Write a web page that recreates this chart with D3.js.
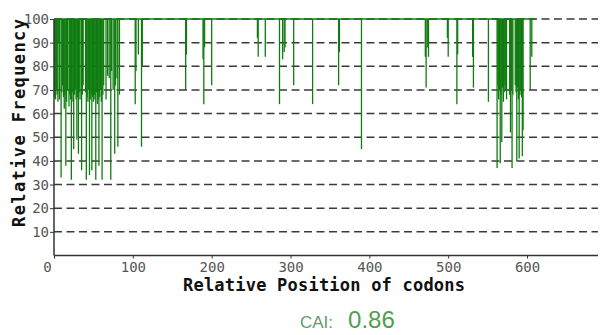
<!DOCTYPE html>
<html>
<head>
<meta charset="utf-8">
<script src="https://cdn.jsdelivr.net/npm/d3@7"></script>
<style>
    html, body { margin: 0; padding: 0; background: #fff; }
    .tick text { font-family: "DejaVu Sans Mono", monospace; font-size: 14px; fill: #555; }
    .axis-title { font-family: "DejaVu Sans Mono", monospace; font-size: 17px; font-weight: bold; fill: #111; }
</style>
</head>
<body>
<svg id="chart" width="600" height="335"></svg>
<script>
// codons whose relative frequency is below 100 (all others sit on the top line)
var codonPos = [
    1, 2, 3, 4, 5, 6, 7, 9, 10, 11, 12, 13, 14, 15, 16, 17, 19, 20, 21, 22,
    23, 24, 25, 26, 27, 28, 29, 30, 31, 32, 33, 35, 36, 37, 40, 41, 42, 43, 44, 45,
    46, 47, 48, 49, 50, 51, 52, 53, 54, 55, 56, 57, 58, 59, 60, 61, 62, 63, 66, 68,
    70, 72, 73, 75, 77, 78, 80, 81, 83,
    103, 104, 107, 111, 112,
    167, 168, 189, 190, 191, 200,
    258, 259, 268, 286, 290, 292, 293, 304, 328, 361, 362, 390,
    471, 472, 474, 475, 499, 500, 511, 512, 531, 532, 551,
    562, 563, 564, 565, 566, 567, 568, 569, 570, 571, 572, 573, 574,
    578, 579, 580, 581, 582, 585, 586,
    587, 588, 589, 590, 591, 592, 593, 594, 595, 604, 606
];
var freqValues = [
    67, 66, 70, 68, 65, 90, 66, 33, 69, 72, 67, 62, 68, 38, 65, 70, 63, 68, 66, 32,
    69, 65, 45, 68, 70, 66, 49, 67, 43, 69, 66, 36, 68, 72, 69, 32, 67, 65, 70, 34,
    66, 68, 36, 67, 65, 68, 66, 32, 69, 64, 66, 38, 67, 70, 65, 32, 68, 72, 66, 76,
    75, 32, 78, 70, 43, 72, 75, 46, 68,
    64, 78, 85, 46, 80,
    70, 85, 83, 64, 88, 72,
    92, 84, 84, 64, 83, 86, 88, 72, 64, 72, 86, 45,
    84, 71, 88, 84, 92, 84, 64, 85, 84, 71, 65,
    37, 72, 66, 70, 39, 68, 48, 71, 65, 69, 72, 70, 66,
    68, 52, 70, 37, 68, 72, 69,
    40, 71, 66, 41, 68, 70, 67, 42, 53, 70, 84
];
var geneLength = 611;
var yTicks = [10, 20, 30, 40, 50, 60, 70, 80, 90, 100];
var xTicks = [0, 100, 200, 300, 400, 500, 600];
var cai = 0.86;

((d3) => {
    var svg = d3.select('#chart');
    var green = '#107c10';

    var x = d3.scaleLinear().domain([0, 690]).range([54, 598]);
    var y = d3.scaleLinear().domain([0, 100]).range([255.5, 19]);

    // dashed grid lines
    svg.append('g')
        .selectAll('line')
        .data(yTicks)
        .enter()
        .append('line')
        .attr('x1', x(0))
        .attr('x2', x(690))
        .attr('y1', function (d) { return y(d); })
        .attr('y2', function (d) { return y(d); })
        .attr('stroke', '#3a3a3a')
        .attr('stroke-width', 1.5)
        .attr('stroke-dasharray', '8,4.5');

    // top line: codons at 100
    svg.append('line')
        .attr('x1', x(0))
        .attr('x2', x(geneLength))
        .attr('y1', y(100))
        .attr('y2', y(100))
        .attr('stroke', green)
        .attr('stroke-width', 1.5);

    // one drop line per codon
    svg.append('g')
        .selectAll('line')
        .data(d3.range(codonPos.length))
        .enter()
        .append('line')
        .attr('x1', function (i) { return x(codonPos[i]); })
        .attr('x2', function (i) { return x(codonPos[i]); })
        .attr('y1', y(100))
        .attr('y2', function (i) { return y(freqValues[i]); })
        .attr('stroke', green)
        .attr('stroke-width', 1.3);

    // axes
    var yAxis = svg.append('g')
        .attr('transform', 'translate(' + x(0) + ',0)')
        .call(d3.axisLeft(y).tickValues(yTicks).tickSize(4).tickPadding(1));
    var xAxis = svg.append('g')
        .attr('transform', 'translate(0,' + y(0) + ')')
        .call(d3.axisBottom(x).tickValues(xTicks).tickSize(3).tickPadding(4));

    [yAxis, xAxis].forEach(function (a) {
        a.select('.domain').attr('stroke', '#333').attr('stroke-width', 1.5);
        a.selectAll('.tick line').attr('stroke', '#333');
    });
    xAxis.select('.domain').attr('d', 'M' + x(0) + ',0H598');
    yAxis.select('.domain').attr('d', 'M0,' + y(0) + 'V' + y(100));
    xAxis.selectAll('.tick text')
        .filter(function (d) { return d === 0; })
        .attr('dx', -7);

    // axis titles
    svg.append('text')
        .attr('class', 'axis-title')
        .attr('text-anchor', 'middle')
        .attr('transform', 'translate(25,123) rotate(-90)')
        .attr('textLength', 208)
        .text('Relative Frequency');

    svg.append('text')
        .attr('class', 'axis-title')
        .attr('text-anchor', 'middle')
        .attr('x', 324)
        .attr('y', 291)
        .attr('textLength', 282)
        .text('Relative Position of codons');

    // CAI caption
    var cap = svg.append('text')
        .attr('x', 300)
        .attr('y', 328)
        .attr('font-family', '"Liberation Sans", Arial, sans-serif');
    cap.append('tspan')
        .attr('font-size', 17)
        .attr('fill', '#5f9a72')
        .text('CAI:');
    cap.append('tspan')
        .attr('dx', 15)
        .attr('font-size', 24)
        .attr('fill', '#4ea04e')
        .text(cai.toFixed(2));
})(window.d3);
</script>
</body>
</html>
